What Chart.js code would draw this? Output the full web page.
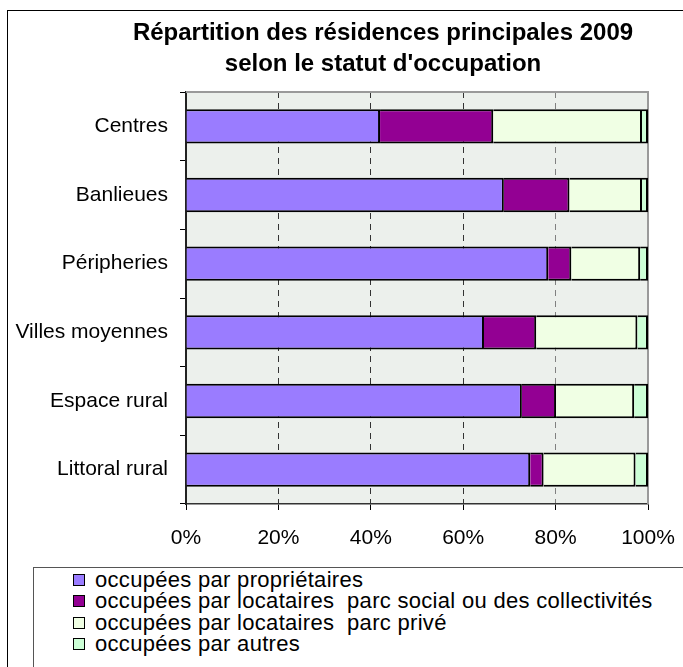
<!DOCTYPE html>
<html>
<head>
<meta charset="utf-8">
<script src="https://cdn.jsdelivr.net/npm/chart.js@4"></script>
<style>
  html, body { margin: 0; padding: 0; background: #fff; overflow: hidden; }
  #frame { position: absolute; left: 7px; top: 10px; width: 720px; height: 720px; border: 1px solid #000; }
  #wrap { position: absolute; left: 0; top: 0; width: 683px; height: 667px; }
  #legend {
    position: absolute; left: 33px; top: 567px; width: 700px; height: 200px;
    border: 1px solid #555; background: #fff;
    font-family: "Liberation Sans", Arial, sans-serif; font-size: 22px; color: #000;
    letter-spacing: 0.3px; padding-top: 1px;
  }
  #legend div { height: 21.3px; line-height: 21px; white-space: pre; position: relative; padding-left: 61px; }
  #legend span.sw { position: absolute; left: 39px; top: 5px; width: 10px; height: 10px; border: 1.5px solid #000; }
</style>
</head>
<body>
<div id="frame"></div>
<div id="wrap"><canvas id="chart" width="683" height="667"></canvas></div>
<div id="legend"></div>
<script>
const titleLines = ["Répartition des résidences principales 2009", "selon le statut d'occupation"];
const categories = ["Centres", "Banlieues", "Péripheries", "Villes moyennes", "Espace rural", "Littoral rural"];
const seriesNames = [
    "occupées par propriétaires",
    "occupées par locataires  parc social ou des collectivités",
    "occupées par locataires  parc privé",
    "occupées par autres"
];
const proprietaires = [42.0, 68.8, 78.4, 64.5, 72.7, 74.5];
const locSocial = [24.5, 14.2, 5.0, 11.3, 7.4, 2.9];
const locPrive = [32.2, 15.7, 14.9, 21.9, 16.9, 19.9];
const autres = [1.3, 1.3, 1.7, 2.3, 3.0, 2.7];
const colors = ["#9a7cff", "#930093", "#f0ffe4", "#ccffd6"];

const font = "'Liberation Sans', Arial, sans-serif";

const plotBackground = {
    id: "plotBackground",
    beforeDraw(chart) {
        const { ctx, chartArea: a } = chart;
        ctx.save();
        ctx.fillStyle = "#ecf0ec";
        ctx.fillRect(a.left, a.top, a.right - a.left, a.bottom - a.top);
        ctx.restore();
    },
    beforeDatasetsDraw(chart) {
        const { ctx, chartArea: a } = chart;
        ctx.save();
        ctx.strokeStyle = "#9a9a9a";
        ctx.lineWidth = 2;
        ctx.beginPath();
        ctx.moveTo(a.left, a.top);
        ctx.lineTo(a.right, a.top);
        ctx.lineTo(a.right, a.bottom);
        ctx.stroke();
        ctx.restore();
    }
};

const titleText = {
    id: "titleText",
    afterDraw(chart) {
        const ctx = chart.ctx;
        ctx.save();
        ctx.fillStyle = "#000";
        ctx.font = "bold 24px " + font;
        ctx.textAlign = "center";
        ctx.textBaseline = "alphabetic";
        ctx.fillText(titleLines[0], 383, 40);
        ctx.fillText(titleLines[1], 383, 71);
        ctx.restore();
    }
};

function gridColor(c) {
    if (!c.tick) return "#333";
    if (c.tick.value === 0 || c.tick.value === 100) return "rgba(0,0,0,0)";
    if (c.tick.value === 80) return "#808080";
    return "#333";
}

const ctx = document.getElementById("chart").getContext("2d");
const chart = new Chart(ctx, {
    type: "bar",
    data: {
        labels: categories,
        datasets: [proprietaires, locSocial, locPrive, autres].map((d, i) => ({
            label: seriesNames[i],
            data: d,
            backgroundColor: colors[i],
            borderColor: "#000",
            borderWidth: 2,
            borderSkipped: "start",
            barPercentage: 0.5,
            categoryPercentage: 1
        }))
    },
    options: {
        indexAxis: "y",
        responsive: false,
        animation: false,
        layout: { padding: { top: 92, right: 35, bottom: 117, left: 0 } },
        plugins: {
            legend: { display: false },
            title: { display: false },
            tooltip: { enabled: false }
        },
        scales: {
            x: {
                stacked: true,
                min: 0,
                max: 100,
                ticks: {
                    stepSize: 20,
                    padding: 16,
                    color: "#000",
                    font: { family: font, size: 21 },
                    callback: v => v + "%"
                },
                grid: {
                    color: gridColor,
                    tickColor: "#000",
                    tickLength: 6
                },
                border: { display: true, color: "#333", width: 1.5, dash: [6, 5] },
                afterFit: s => { s.height = 46; s.paddingLeft = 0; s.paddingRight = 0; }
            },
            y: {
                stacked: true,
                ticks: {
                    padding: 12,
                    color: "#000",
                    font: { family: font, size: 21 }
                },
                grid: {
                    drawOnChartArea: false,
                    tickColor: "#000",
                    tickLength: 6
                },
                border: { display: true, color: "#222", width: 2 },
                afterFit: s => { s.width = 186; }
            }
        }
    },
    plugins: [plotBackground, titleText]
});

// legend built from the datasets
const legendEl = document.getElementById("legend");
chart.data.datasets.forEach(ds => {
    const row = document.createElement("div");
    const sw = document.createElement("span");
    sw.className = "sw";
    sw.style.background = ds.backgroundColor;
    row.appendChild(sw);
    row.appendChild(document.createTextNode(ds.label));
    legendEl.appendChild(row);
});
</script>
</body>
</html>
